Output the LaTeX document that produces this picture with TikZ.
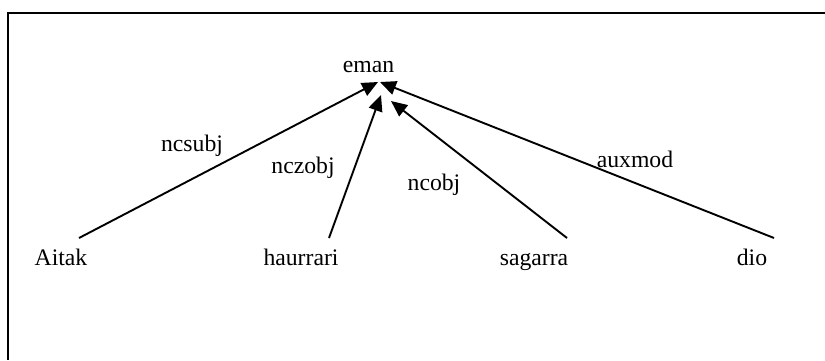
\documentclass[tikz,border=0pt]{standalone}
\usepackage{fontspec}
\setmainfont{Liberation Serif}
\usetikzlibrary{arrows.meta}
\begin{document}
\begin{tikzpicture}[x=1pt,y=-1pt,
  word/.style={font=\fontsize{23.7}{28}\selectfont, anchor=base, inner sep=0pt},
  rel/.style={word},
  dep/.style={line width=1.9pt, -{Triangle[length=16pt,width=14pt]}},
  frame/.style={line width=2pt}]
\useasboundingbox (0,0) rectangle (825,360);
\draw[frame] (8,360) -- (8,13) -- (825,13);
% words
\node[word] (eman) at (368.5,72) {eman};
\node[word] (aitak) at (61,265) {Aitak};
\node[word] (haurrari) at (301,265) {haurrari};
\node[word] (sagarra) at (534,265) {sagarra};
\node[word] (dio) at (752,265) {dio};
% connector ends
\coordinate (aitakS) at (79,238);
\coordinate (haurrariS) at (329,238);
\coordinate (sagarraS) at (567,238);
\coordinate (dioS) at (774,238);
\coordinate (emanA) at (378,82);
\coordinate (emanB) at (381,95);
\coordinate (emanC) at (391,101);
\coordinate (emanD) at (380,82);
\draw[dep] (aitakS) -- (emanA);
\draw[dep] (haurrariS) -- (emanB);
\draw[dep] (sagarraS) -- (emanC);
\draw[dep] (dioS) -- (emanD);
% relation labels
\node[rel] (l1) at (192,151.7) {ncsubj};
\node[rel] (l2) at (303,173.3) {nczobj};
\node[rel] (l3) at (434,190) {ncobj};
\node[rel] (l4) at (635,167.3) {auxmod};
\end{tikzpicture}
\end{document}
